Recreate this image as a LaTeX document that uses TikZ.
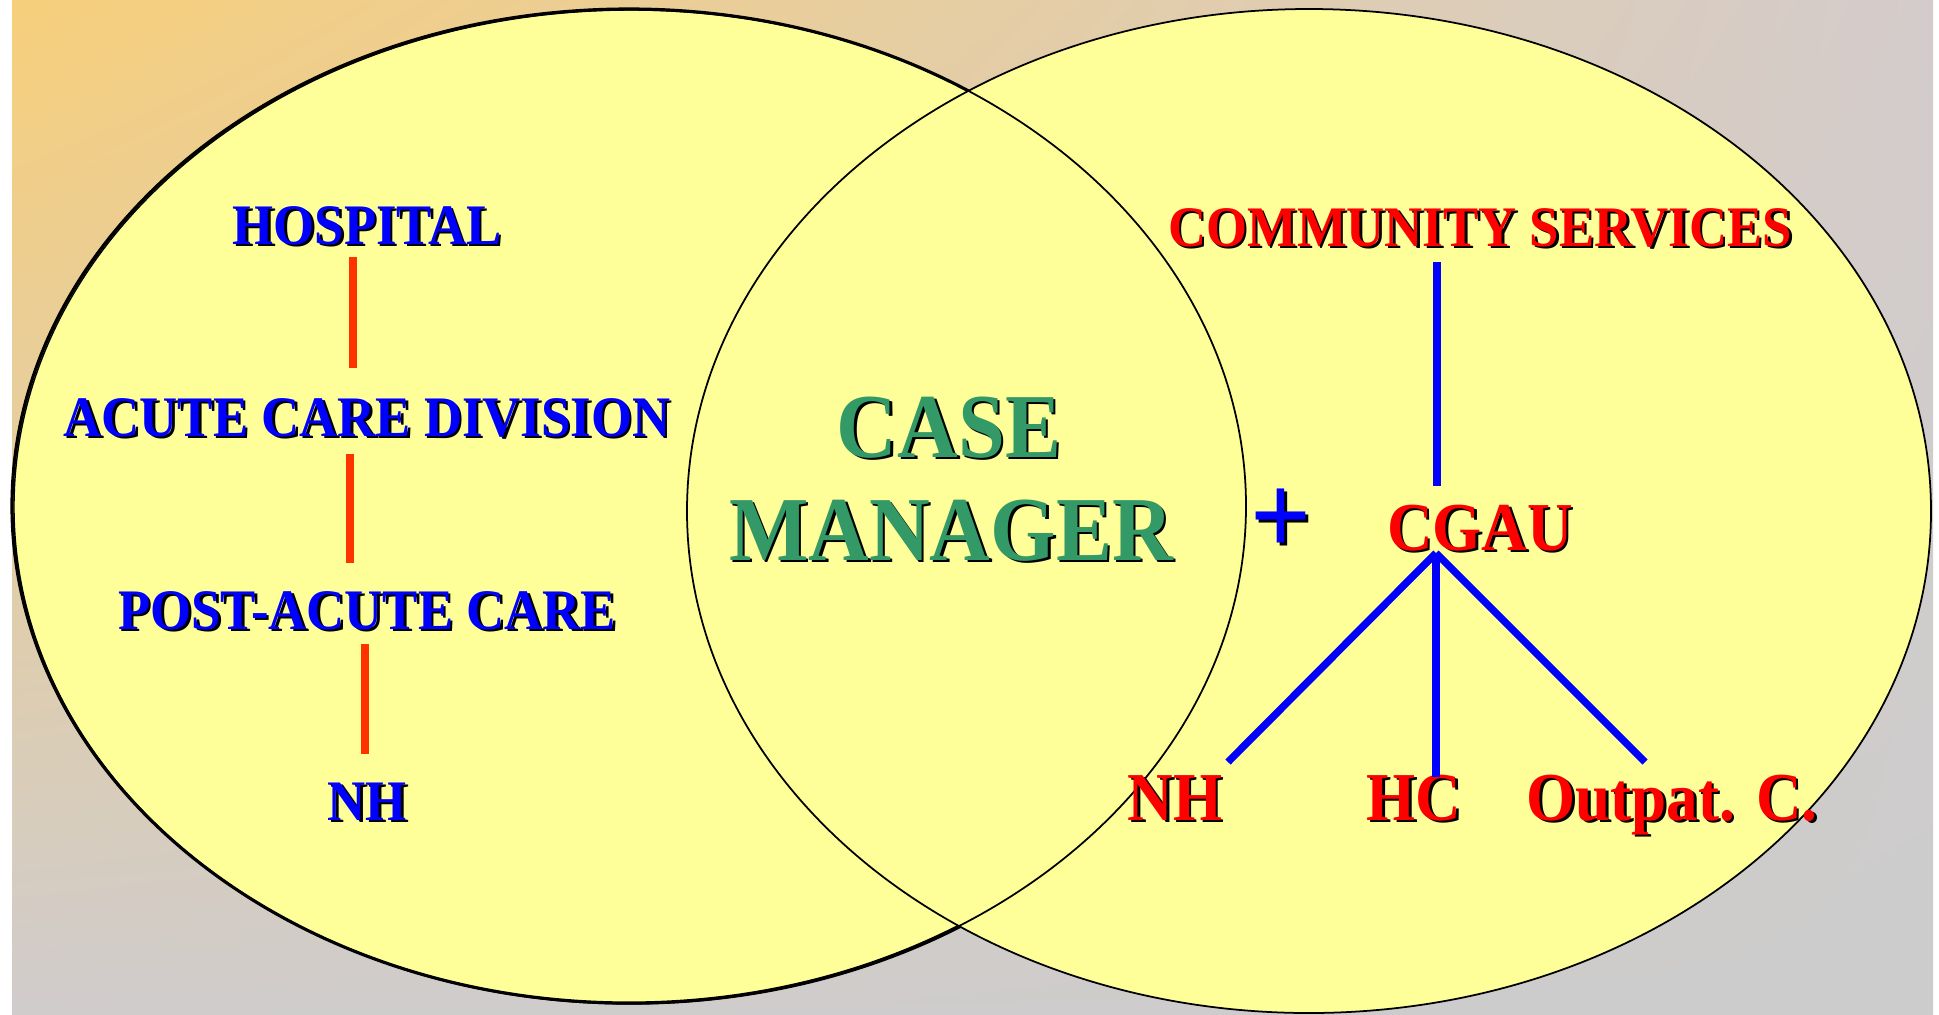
\documentclass[tikz,border=0pt]{standalone}
\usepackage{fontspec}
\newfontfamily\lblfont[FakeStretch=0.92]{Liberation Serif}
\usetikzlibrary{arrows,positioning,shadings}

\definecolor{venn}{HTML}{FFFF99}
\definecolor{bgwarm}{HTML}{F7CF7B}
\definecolor{bggreyA}{HTML}{D4CCCC}
\definecolor{bggreyB}{HTML}{D0CCCC}
\definecolor{bggreyC}{HTML}{CCCCCC}
\definecolor{linkorange}{HTML}{FF3300}
\definecolor{casegreen}{HTML}{339966}

\tikzset{
  hosp_lbl/.style={font=\lblfont\bfseries\fontsize{16.3}{18}\selectfont, text=blue, anchor=base, inner sep=0pt},
  comm_lbl/.style={font=\lblfont\bfseries\fontsize{16.3}{18}\selectfont, text=red, anchor=base, inner sep=0pt},
  unit_lbl/.style={font=\lblfont\bfseries\fontsize{19.5}{22}\selectfont, text=red, anchor=base, inner sep=0pt},
  case_lbl/.style={font=\lblfont\bfseries\fontsize{26}{29}\selectfont, text=casegreen, anchor=base, inner sep=0pt},
  plus_lbl/.style={font=\lblfont\bfseries\fontsize{33}{36}\selectfont, text=blue, anchor=center, inner sep=0pt},
  orange_link/.style={draw=linkorange, line width=2.1pt},
  blue_link/.style={draw=blue, line width=2.1pt},
}

% text with a black drop shadow
\newcommand{\shadowlabel}[4]{%
  \node[#3, text=black, xshift=0.75pt, yshift=-0.75pt] at #2 {#4};
  \node[#3] at #2 (#1) {#4};
}

\begin{document}
\begin{tikzpicture}[x=0.01cm, y=-0.01cm]

    \useasboundingbox (0,0) rectangle (1939,1014);
    \fill[white] (0,0) rectangle (1939,1014);
    \shade[upper left=bgwarm, upper right=bggreyA, lower left=bggreyB, lower right=bggreyC]
      (12,0) rectangle (1933,1014);

    % the two sets
    \filldraw[fill=venn, line width=0.9pt] (629,506) ellipse (617 and 497);
    \draw[line width=0.4pt] (631,507) ellipse (617 and 497);
    \fill[venn] (1309,511) ellipse (622 and 502);
    \draw[line width=0.5pt] (629,506) ellipse (617 and 497);
    \draw[line width=0.5pt] (1309,511) ellipse (622 and 502);

    % left chain
    \shadowlabel{hospital}{(367,244)}{hosp_lbl}{HOSPITAL}
    \shadowlabel{acute}{(367,436)}{hosp_lbl}{ACUTE CARE DIVISION}
    \shadowlabel{postacute}{(367,629)}{hosp_lbl}{POST-ACUTE CARE}
    \shadowlabel{nh_left}{(367,820)}{hosp_lbl}{NH}

    \coordinate (hospital_out) at (353,257);
    \coordinate (acute_in)     at (353,368);
    \coordinate (acute_out)    at (350,454);
    \coordinate (postacute_in) at (350,563);
    \coordinate (postacute_out) at (365,644);
    \coordinate (nh_left_in)   at (365,754);

    \draw [orange_link] (hospital_out)  -- (acute_in);
    \draw [orange_link] (acute_out)     -- (postacute_in);
    \draw [orange_link] (postacute_out) -- (nh_left_in);

    % middle
    \shadowlabel{case}{(949,457)}{case_lbl}{CASE}
    \shadowlabel{manager}{(951,560)}{case_lbl}{MANAGER}
    \shadowlabel{plus}{(1281,522)}{plus_lbl}{+}

    % right tree
    \shadowlabel{community}{(1480,246)}{comm_lbl}{COMMUNITY SERVICES}
    \shadowlabel{cgau}{(1480,550)}{unit_lbl}{CGAU}
    \shadowlabel{nh_right}{(1175,820)}{unit_lbl}{NH}
    \shadowlabel{hc}{(1414,820)}{unit_lbl}{HC}
    \shadowlabel{outpat}{(1672,820)}{unit_lbl}{Outpat. C.}

    \coordinate (community_out) at (1437,262);
    \coordinate (cgau_in)       at (1437,486);
    \coordinate (cgau_out)      at (1436,553);
    \coordinate (nh_right_in)   at (1228,762);
    \coordinate (hc_in)         at (1436,777);
    \coordinate (outpat_in)     at (1645,762);

    \draw [blue_link] (community_out) -- (cgau_in);
    \draw [blue_link] (cgau_out) -- (nh_right_in);
    \draw [blue_link] (cgau_out) -- (hc_in);
    \draw [blue_link] (cgau_out) -- (outpat_in);

  \end{tikzpicture}
\end{document}
